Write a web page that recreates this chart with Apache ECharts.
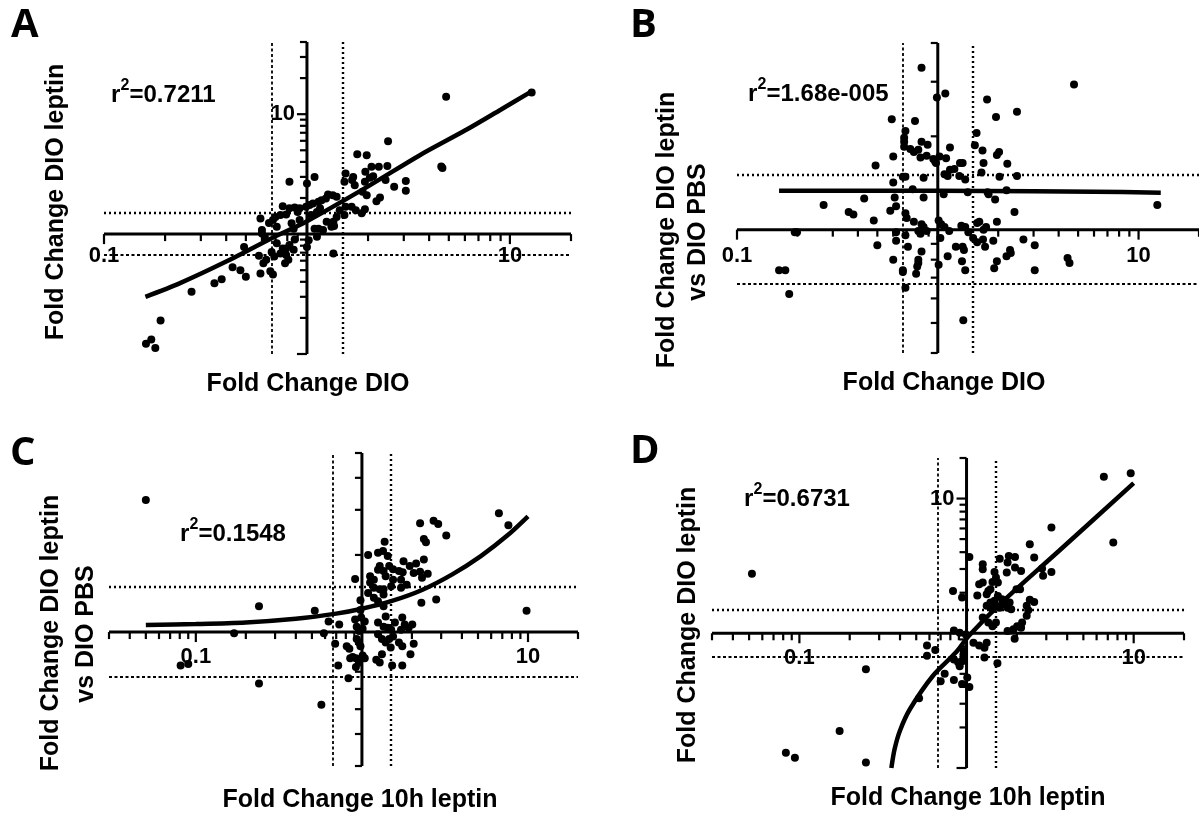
<!DOCTYPE html>
<html><head><meta charset="utf-8">
<script src="https://cdn.jsdelivr.net/npm/echarts@6.0.0/dist/echarts.min.js"></script>
<style>html,body{margin:0;padding:0;background:#fff}#c{width:1199px;height:815px}</style>
</head><body><div id="c"></div>
<script>
// ---------------- DATA (fold-change values) ----------------
const pointsA = [
[2.51,5.96],[1.77,4.64],[1.97,4.55],[2.08,3.64],[2.26,3.64],[2.49,3.69],[1.94,3.31],[1.55,3.2],[1.69,3.0],[1.67,2.82],[1.53,2.73],[1.72,2.56],[1.93,2.73],[2.04,2.95],[2.12,3.04],[2.44,2.82],[2.69,2.48],[3.07,2.77],[3.07,2.3],[1.88,2.25],[1.97,2.11],[2.2,1.88],[2.29,2.02],
[0.82,2.73],[1.09,3.0],[1.0,2.64],
[1.27,2.14],[1.34,2.11],[1.40,2.05],[1.24,1.98],[1.18,1.92],[1.14,1.86],[1.07,1.80],[1.03,1.75],[0.99,1.69],[0.92,1.64],[0.87,1.67],[0.82,1.64],[0.76,1.71],[0.90,1.53],[0.79,1.46],[0.74,1.44],[0.70,1.39],[0.68,1.31],[0.59,1.35],[0.65,1.24],[0.71,1.15],[0.84,1.23],[0.86,1.11],[0.92,1.31],[1.05,1.44],[1.12,1.53],[1.16,1.64],
[1.45,1.58],[1.55,1.69],[1.66,1.69],[1.74,1.58],[1.86,1.49],[1.93,1.61],[1.53,1.44],[1.40,1.39],[1.35,1.27],[1.32,1.15],[1.25,1.27],[1.14,1.11],[1.09,1.11],[1.2,1.08],[1.36,1.17],
[1.12,0.95],[1.02,0.89],[1.0,0.78],[0.87,0.90],[0.82,0.81],[0.79,0.76],[0.86,0.74],[0.76,0.76],[0.71,0.84],[0.74,0.69],[0.79,0.67],[0.81,0.61],[0.78,0.57],[0.69,0.65],[0.67,0.71],[0.6,1.01],[0.6,1.08],[0.62,0.95],[1.35,0.69],[0.63,0.61],[0.61,0.57],[0.66,0.49],[0.68,0.46],[0.59,0.47],[0.5,0.44],[0.47,0.5],[0.49,0.78],[0.43,0.53],[0.58,0.66],[0.38,0.42],[0.35,0.39],[0.27,0.33],
[12.8,15.2],[4.85,14.0],[4.59,3.66],[4.65,3.55],[0.19,0.19],[0.171,0.132],[0.161,0.122],[0.179,0.112]
];
const pointsB = [
[0.83,3.33],[1.09,2.75],[0.99,2.67],[1.76,2.63],[2.48,2.40],[1.95,2.31],[0.59,2.27],[0.77,2.24],[0.69,2.08],[1.56,2.05],[0.68,1.98],[0.68,1.92],[0.68,1.85],[0.83,1.92],[0.89,1.88],[1.53,1.87],[1.15,1.84],[0.73,1.82],[0.76,1.78],[0.80,1.81],[1.67,1.80],[2.02,1.78],[1.97,1.74],[0.60,1.72],[0.82,1.71],[0.88,1.73],[0.95,1.69],[0.97,1.66],[0.98,1.64],[1.02,1.72],[1.10,1.70],[1.69,1.64],[2.22,1.63],[0.49,1.61],[1.29,1.64],[1.33,1.64],[1.15,1.56],[1.21,1.57],[1.08,1.51],[1.12,1.49],[1.28,1.49],[1.37,1.45],[1.65,1.53],[2.03,1.48],[2.48,1.49],[0.60,1.42],[0.69,1.48],[0.67,1.48],[0.85,1.47],[1.07,1.30],[0.75,1.35],[0.85,1.27],[1.41,1.32],[1.79,1.30],[1.93,1.25],[2.20,1.34],[0.43,1.26],[0.61,1.27],[0.62,1.19],[0.58,1.15],[0.27,1.20],[0.36,1.14],[0.38,1.12],[0.48,1.07],[0.69,1.13],[0.70,1.09],[0.76,1.06],[0.83,1.04],[0.85,1.02],[0.80,0.99],[0.82,0.97],[0.88,0.99],[1.01,1.07],[1.04,1.04],[1.08,1.02],[1.14,0.99],[1.31,1.03],[1.37,1.02],[1.42,0.98],[1.50,0.94],[1.57,0.91],[1.57,1.05],[1.61,1.06],[1.69,1.0],[1.74,1.02],[1.97,1.06],[1.68,0.93],[1.72,0.88],[1.89,0.92],[0.62,0.98],[0.62,0.92],[0.69,0.96],[0.50,0.89],[0.71,0.88],[1.03,0.94],[1.01,0.77],[0.83,0.85],[0.60,0.80],[0.80,0.80],[0.80,0.78],[0.79,0.76],[0.78,0.72],[0.67,0.74],[0.67,0.73],[0.69,0.65],[1.12,0.82],[1.23,0.88],[1.33,0.88],[1.35,0.86],[1.32,0.79],[1.37,0.74],[1.91,0.75],[1.97,0.79],[2.20,0.82],[2.29,0.86],[2.31,0.84],[2.41,1.14],[2.67,0.93],[3.04,0.89],[3.04,0.74],[1.34,0.51],[1.77,1.32],[4.77,2.94],[12.4,1.20],[4.43,0.81],[4.53,0.78],[0.162,0.74],[0.174,0.74],[0.182,0.62],[0.194,0.98],[0.199,0.98]
];
const pointsC = [
[0.050,3.28],[6.68,2.91],[7.62,2.61],[2.24,2.66],[2.70,2.72],[2.88,2.64],[3.22,2.38],[2.36,2.31],[2.43,2.24],[1.37,2.25],[1.34,2.07],[1.09,2.0],[1.25,2.04],[1.43,1.98],[1.78,1.89],[2.12,1.85],[2.36,1.92],[1.28,1.81],[1.25,1.75],[1.35,1.73],[1.46,1.81],[1.54,1.76],[1.67,1.73],[1.76,1.71],[1.94,1.81],[2.05,1.70],[2.24,1.72],[2.49,1.69],[1.12,1.65],[1.18,1.60],[1.39,1.65],[1.54,1.60],[1.72,1.60],[1.86,1.53],[2.30,1.63],[0.91,1.61],[1.12,1.56],[1.18,1.49],[1.28,1.47],[1.35,1.47],[1.50,1.51],[1.72,1.49],[1.09,1.42],[1.18,1.36],[1.25,1.32],[1.35,1.40],[2.28,1.30],[2.80,1.34],[0.98,1.33],[0.98,1.22],[1.35,1.26],[1.39,1.15],[0.24,1.26],[0.52,1.21],[9.8,1.21],[0.63,1.10],[0.73,1.07],[0.91,1.12],[0.93,1.05],[0.96,1.01],[1.01,1.03],[1.04,1.10],[0.99,1.14],[1.25,1.09],[1.35,1.05],[1.43,1.04],[1.50,1.02],[1.58,1.09],[1.72,1.02],[1.81,1.07],[1.91,1.04],[2.01,1.07],[1.75,1.14],[1.25,0.98],[1.32,0.94],[1.39,0.91],[1.46,0.94],[1.54,0.96],[1.67,0.91],[1.49,0.87],[1.75,0.88],[2.05,0.90],[1.96,0.82],[1.32,0.82],[1.22,0.78],[1.28,0.76],[1.52,0.74],[1.75,0.74],[0.69,0.90],[0.81,0.88],[0.84,0.86],[0.85,0.79],[0.88,0.80],[0.92,0.79],[1.01,0.81],[1.04,0.79],[0.72,0.74],[0.92,0.73],[0.96,0.76],[0.93,0.94],[0.96,0.91],[0.98,0.88],[0.83,0.66],[0.57,0.52],[0.24,0.63],[0.081,0.74],[0.090,0.75],[0.17,0.99],[0.59,0.99]
];
const pointsD = [
[9.6,15.4],[6.63,14.5],[7.55,4.71],[3.22,6.09],[2.39,4.58],[1.04,3.69],[2.54,3.65],[1.79,3.75],[1.95,3.69],[1.58,3.58],[1.76,3.35],[1.95,3.08],[1.25,3.25],[1.25,2.99],[1.74,2.82],[2.12,2.90],[2.83,3.02],[2.87,2.67],[3.22,2.85],[1.47,2.85],[1.50,2.59],[1.54,2.38],[1.43,2.40],[1.19,2.31],[1.25,2.38],[1.35,2.06],[1.32,1.95],[1.39,2.12],[1.99,2.12],[2.09,2.12],[0.83,2.06],[1.16,1.91],[0.94,1.84],[1.54,1.89],[1.63,1.79],[1.71,1.74],[1.81,1.69],[1.47,1.74],[1.50,1.60],[1.58,1.55],[1.67,1.64],[1.76,1.55],[1.85,1.51],[1.39,1.69],[1.32,1.60],[1.43,1.51],[2.39,1.77],[2.54,1.71],[2.29,1.60],[2.34,1.48],[2.29,1.35],[2.15,1.20],[2.01,1.13],[2.12,1.10],[1.91,1.07],[1.76,1.04],[1.94,0.91],[1.25,1.31],[1.35,1.20],[1.43,1.13],[1.50,1.20],[0.84,1.05],[0.91,1.01],[0.99,0.98],[1.10,0.85],[1.19,0.81],[1.28,0.78],[1.32,0.85],[1.28,0.66],[1.53,0.60],[0.58,0.81],[0.65,0.75],[0.58,0.68],[0.84,0.64],[0.89,0.61],[0.91,0.57],[0.94,0.62],[0.96,0.74],[0.96,0.68],[0.70,0.44],[0.74,0.50],[0.84,0.45],[0.94,0.42],[1.01,0.47],[1.04,0.40],[0.52,0.33],[0.25,0.54],[0.052,2.77],[0.174,0.188],[0.083,0.130],[0.094,0.119],[0.25,0.110]
];
// regression curves
const fitA_x = [0.16, 0.237, 0.4, 0.667, 1, 2, 3.6, 6, 9, 12.8];
const fitA_y = [0.30, 0.39, 0.59, 0.92, 1.28, 2.5, 4.55, 7.3, 10.9, 15.5];
const fitB_x = [0.162, 0.5, 1, 3, 6, 12.9];
const fitB_y = [1.335, 1.335, 1.334, 1.33, 1.326, 1.315];
const fitC_x = [0.05, 0.1, 0.2, 0.4, 0.7, 1, 1.5, 2.3, 3.5, 5.2, 7.5, 10];
const fitC_y = [1.065, 1.074, 1.09, 1.127, 1.18, 1.233, 1.32, 1.46, 1.68, 1.98, 2.38, 2.83];
const fitD_x = [0.355, 0.371, 0.40, 0.458, 0.628, 0.862, 1.03, 1.62, 3.58, 10.0];
const fitD_y = [0.100, 0.138, 0.19, 0.273, 0.482, 0.719, 0.955, 1.69, 4.1, 13.0];
// r^2 values (text shown as r + superscript 2 + value)
const r2Values = ['=0.7211', '=1.68e-005', '=0.1548', '=0.6731'];
// cut-off lines (1.5-fold up / down)
const cutoffs = [0.667, 1.5];
// tick values
const ticksMajor = [0.1, 1, 10];
const xMinorWide = [0.2,0.3,0.4,0.5,0.6,0.7,0.8,0.9,2,3,4,5,6,7,8,9,20];
const xMinorLow = [0.03,0.04,0.05,0.06,0.07,0.08,0.09,0.2,0.3,0.4,0.5,0.6,0.7,0.8,0.9,2,3,4,5,6,7,8,9,20];
const yMinorA = [0.2,0.3,0.4,0.5,0.6,0.7,0.8,0.9,2,3,4,5,6,7,8,9,20,30,40];
const yMinorB = [0.4,0.5,0.6,0.7,0.8,0.9,2,3,4];
const yMinorC = [0.3,0.4,0.5,0.6,0.7,0.8,0.9,2,3,4,5];
const yMinorD = [0.2,0.3,0.4,0.5,0.6,0.7,0.8,0.9,2,3,4,5,6,7,8,9,20];
const xTickLabels = [0.1, 10];
const yTickLabelsAD = [10];

// ---------------- LAYOUT ----------------
const FONT = '"Liberation Sans", Arial, sans-serif';
const panels = [
  {grid:{left:104, top:42, width:467, height:312}, xMin:0.1, xMax:20, yMin:0.1, yMax:40, pts:pointsA, fx:fitA_x, fy:fitA_y,
   xMajor:ticksMajor, xMinor:xMinorWide, yMajor:ticksMajor, yMinor:yMinorA, yLabels:yTickLabelsAD, labGap:22},
  {grid:{left:737, top:43, width:473, height:310}, xMin:0.1, xMax:20, yMin:0.4, yMax:4, pts:pointsB, fx:fitB_x, fy:fitB_y,
   xMajor:ticksMajor, xMinor:xMinorWide, yMajor:[1], yMinor:yMinorB, yLabels:[], labGap:26},
  {grid:{left:109, top:453, width:469, height:313}, xMin:0.03, xMax:20, yMin:0.3, yMax:5, pts:pointsC, fx:fitC_x, fy:fitC_y,
   xMajor:ticksMajor, xMinor:xMinorLow, yMajor:[1], yMinor:yMinorC, yLabels:[], labGap:25},
  {grid:{left:712, top:458, width:472, height:310}, xMin:0.03, xMax:20, yMin:0.1, yMax:20, pts:pointsD, fx:fitD_x, fy:fitD_y,
   xMajor:ticksMajor, xMinor:xMinorLow, yMajor:ticksMajor, yMinor:yMinorD, yLabels:yTickLabelsAD, labGap:25}
];

const grids = [], xAxes = [], yAxes = [], series = [];
panels.forEach((p, i) => {
  grids.push(Object.assign({containLabel:false, show:false}, p.grid));
  xAxes.push({type:'log', logBase:10, gridIndex:i, min:p.xMin, max:p.xMax, show:false});
  yAxes.push({type:'log', logBase:10, gridIndex:i, min:p.yMin, max:p.yMax, show:false});
  // cut-off dotted lines
  series.push({
    type:'scatter', xAxisIndex:i, yAxisIndex:i, data:[], silent:true, z:2,
    markLine:{silent:true, symbol:['none','none'], label:{show:false}, animation:false,
      data:[
        {yAxis:cutoffs[1], lineStyle:{color:'#000', width:2.4, type:[2,3]}},
        {yAxis:cutoffs[0], lineStyle:{color:'#000', width:1.8, type:[3,2.5]}},
        {xAxis:cutoffs[1], lineStyle:{color:'#000', width:2.4, type:[2,3]}},
        {xAxis:cutoffs[0], lineStyle:{color:'#000', width:1.8, type:[3,2.5]}}
      ]}
  });
  // axis lines crossing at 1 plus tick labels
  series.push({
    type:'custom', xAxisIndex:i, yAxisIndex:i, data:[[1,1]], silent:true, z:4, clip:false,
    renderItem:function(params, api){
      const ch = [];
      const L = (a, b, w) => ch.push({type:'line', shape:{x1:a[0],y1:a[1],x2:b[0],y2:b[1]}, style:{stroke:'#000', lineWidth:w}});
      L(api.coord([p.xMin,1]), api.coord([p.xMax,1]), 3);
      L(api.coord([1,p.yMin]), api.coord([1,p.yMax]), 3);
      xTickLabels.forEach(v => { const c = api.coord([v,1]);
        ch.push({type:'text', x:c[0], y:c[1]+p.labGap, style:{text:String(v), font:'bold 22px '+FONT, fill:'#000', align:'center', verticalAlign:'middle'}}); });
      p.yLabels.forEach(v => { const c = api.coord([1,v]);
        ch.push({type:'text', x:c[0]-12, y:c[1], style:{text:String(v), font:'bold 22px '+FONT, fill:'#000', align:'right', verticalAlign:'middle'}}); });
      return {type:'group', children:ch};
    }
  });
  // tick marks: one item per tick  [x, y, kind]  kind 0/1 = x major/minor, 2/3 = y major/minor
  const tickItems = [];
  p.xMajor.forEach(v => tickItems.push([v, 1, 0]));
  p.xMinor.forEach(v => tickItems.push([v, 1, 1]));
  p.yMajor.forEach(v => tickItems.push([1, v, 2]));
  p.yMinor.forEach(v => tickItems.push([1, v, 3]));
  series.push({
    type:'custom', xAxisIndex:i, yAxisIndex:i, data:tickItems, silent:true, z:5, clip:false,
    dimensions:['x','y','k'], encode:{x:0, y:1},
    renderItem:function(params, api){
      const k = api.value(2);
      const c = api.coord([api.value(0), api.value(1)]);
      const len = (k === 0 || k === 2) ? 10 : 7;
      const shape = (k < 2) ? {x1:c[0], y1:c[1], x2:c[0], y2:c[1]+len} : {x1:c[0], y1:c[1], x2:c[0]-len, y2:c[1]};
      return {type:'line', shape:shape, style:{stroke:'#000', lineWidth:2.2}};
    }
  });
  // regression line
  series.push({type:'line', xAxisIndex:i, yAxisIndex:i, data:p.fx.map((x,k)=>[x,p.fy[k]]), showSymbol:false, smooth:0.3,
    lineStyle:{color:'#000', width:4.5}, silent:true, z:6});
  // data points
  series.push({type:'scatter', xAxisIndex:i, yAxisIndex:i, data:p.pts, symbol:'circle', symbolSize:8,
    itemStyle:{color:'#000', opacity:1}, silent:true, z:8});
});

const T = (text, x, y, font, opt) => Object.assign({type:'text', x:x, y:y, z:20, silent:true,
  style:{text:text, font:font, fill:'#000', align:(opt&&opt.align)||'left', verticalAlign:'middle'}}, (opt&&opt.extra)||{});
const LET = 'bold 40px "Open Sans", sans-serif';
const TIT = 'bold 25px ' + FONT;
const R2 = 'bold 24px ' + FONT;
const SUP = 'bold 16px ' + FONT;
const rot = {rotation:Math.PI/2};
const r2Pos = [[111,95],[748,94],[180,534],[744,499]];
const graphic = [
  T('A', 11, 26, LET), T('B', 630, 26, LET), T('C', 10, 454, LET), T('D', 630, 452, LET),
  T('Fold Change DIO', 308, 384, TIT, {align:'center'}),
  T('Fold Change DIO', 944, 383, TIT, {align:'center'}),
  T('Fold Change 10h leptin', 360, 800, TIT, {align:'center'}),
  T('Fold Change 10h leptin', 968, 798, TIT, {align:'center'}),
  T('Fold Change DIO leptin', 56, 202, TIT, {align:'center', extra:rot}),
  T('Fold Change DIO leptin', 667, 230, TIT, {align:'center', extra:rot}),
  T('vs DIO PBS', 698, 232, TIT, {align:'center', extra:rot}),
  T('Fold Change DIO leptin', 51, 633, TIT, {align:'center', extra:rot}),
  T('vs DIO PBS', 86, 634, TIT, {align:'center', extra:rot}),
  T('Fold Change DIO leptin', 688, 625, TIT, {align:'center', extra:rot})
];
r2Pos.forEach((pos, i) => {
  graphic.push(T('r', pos[0], pos[1], R2));
  graphic.push(T('2', pos[0] + 9.5, pos[1] - 9, SUP));
  graphic.push(T(r2Values[i], pos[0] + 18.5, pos[1], R2));
});

const chart = echarts.init(document.getElementById('c'), null, {renderer:'canvas'});
chart.setOption({animation:false, backgroundColor:'#fff', grid:grids, xAxis:xAxes, yAxis:yAxes, series:series, graphic:graphic});
</script></body></html>
